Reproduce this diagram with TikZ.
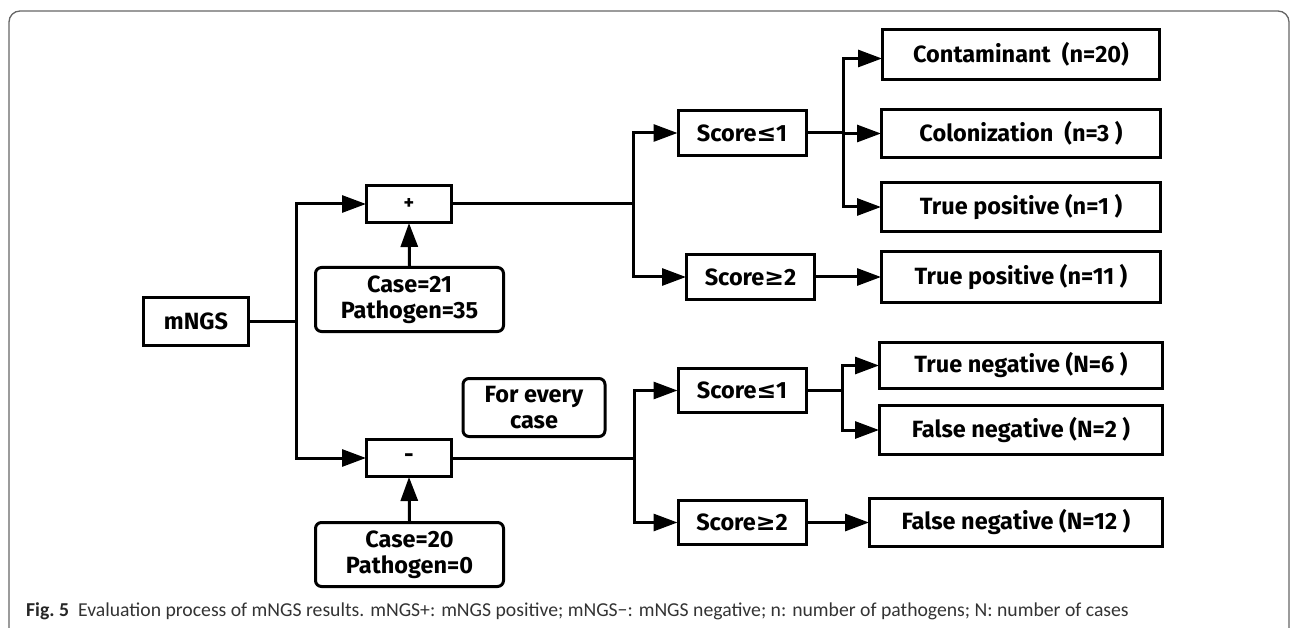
\documentclass[tikz,border=0pt]{standalone}
\usepackage{fontspec}
\setmainfont{Fira Sans}
\newfontfamily\capfont{Carlito}
\newfontfamily\symfont{DejaVu Sans}
\newcommand{\myle}{{\symfont\bfseries ≤}}
\newcommand{\myge}{{\symfont\bfseries ≥}}
\usetikzlibrary{arrows.meta}
\begin{document}
\begin{tikzpicture}[x=1pt,y=-1pt,
  box/.style={draw, line width=3pt, inner sep=0pt, align=center,
    font=\fontsize{23.5}{26}\selectfont\bfseries},
  rbox/.style={box, rounded corners=6pt},
  conn/.style={line width=3pt},
  arr/.style={conn, -{Triangle[length=24pt,width=17pt]}, shorten >=-1pt}]
\useasboundingbox (0,0) rectangle (1290,628);
\begin{scope}
\clip (0,0) rectangle (1290,628);
\draw[draw=black!60, line width=1.3pt, rounded corners=11pt] (9,11) rectangle (1289,670);
\end{scope}
% nodes
\node[box, minimum width=105pt, minimum height=48pt] (mngs) at (196,321.5) {mNGS};
\node[box, minimum width=85pt, minimum height=37pt] (plus) at (409,204) {\fontsize{20}{22}\selectfont +};
\node[rbox, minimum width=188pt, minimum height=64pt] (case21) at (409.5,299.5) {Case=21\\Pathogen=35};
\node[box, minimum width=85pt, minimum height=37pt] (minus) at (409,458) {-};
\node[rbox, minimum width=188pt, minimum height=64pt] (case20) at (409.5,554.5) {Case=20\\Pathogen=0};
\node[rbox, minimum width=142pt, minimum height=58pt] (every) at (534,407.5) {For every\\case};
\node[box, minimum width=128pt, minimum height=45pt] (s1a) at (742,133) {Score\myle1};
\node[box, minimum width=128pt, minimum height=45pt] (s2a) at (750.5,277) {Score\myge2};
\node[box, minimum width=277pt, minimum height=50pt] (cont) at (1021,54.5) {Contaminant\ \ (n=20)};
\node[box, minimum width=279pt, minimum height=48pt] (colo) at (1021,133.5) {Colonization\ \ (n=3 )};
\node[box, minimum width=279pt, minimum height=49pt] (tp1) at (1021,207) {True positive (n=1 )};
\node[box, minimum width=279pt, minimum height=51pt] (tp11) at (1021,277) {True positive (n=11 )};
\node[box, minimum width=128pt, minimum height=44pt] (s1b) at (742,390.5) {Score\myle1};
\node[box, minimum width=128pt, minimum height=44pt] (s2b) at (742,522.5) {Score\myge2};
\node[box, minimum width=283pt, minimum height=46pt] (tn) at (1021,365.5) {True negative (N=6 )};
\node[box, minimum width=283pt, minimum height=49pt] (fn2) at (1021,430) {False negative (N=2 )};
\node[box, minimum width=293pt, minimum height=48pt] (fn12) at (1016,522.5) {False negative (N=12 )};
% caption
\node[anchor=base west, inner sep=0pt, font=\capfont\fontsize{19.7}{22}\selectfont, text=black!80] (cap) at (26,616)
  {\textbf{\color{black!85}Fig.~5}\hspace{9pt}Evaluation process of mNGS results. mNGS+: mNGS positive; mNGS−: mNGS negative; n: number of pathogens; N: number of cases};
% junctions
\coordinate (j0) at (296,321.5);
\coordinate (j1) at (633,204);
\coordinate (j2) at (843,133);
\coordinate (j3) at (634,458);
\coordinate (j4) at (842,390.5);
% connectors
\draw[conn] (mngs.east) -- (j0);
\draw[arr] (j0) |- (plus.west);
\draw[arr] (j0) |- (minus.west);
\draw[arr] (case21.north) -- (plus.south);
\draw[arr] (case20.north) -- (minus.south);
\draw[conn] (plus.east) -- (j1);
\draw[arr] (j1) |- (s1a.west);
\draw[arr] (j1) |- (s2a.west);
\draw[conn] (s1a.east) -- (j2);
\draw[arr] (j2) |- ([yshift=-4pt]cont.west);
\draw[arr] (j2) |- (colo.west);
\draw[arr] (j2) |- (tp1.west);
\draw[arr] (s2a.east) -- (tp11.west);
\draw[conn] (minus.east) -- (j3);
\draw[arr] (j3) |- (s1b.west);
\draw[arr] (j3) |- (s2b.west);
\draw[conn] (s1b.east) -- (j4);
\draw[arr] (j4) |- (tn.west);
\draw[arr] (j4) |- (fn2.west);
\draw[arr] (s2b.east) -- (fn12.west);
\end{tikzpicture}
\end{document}
